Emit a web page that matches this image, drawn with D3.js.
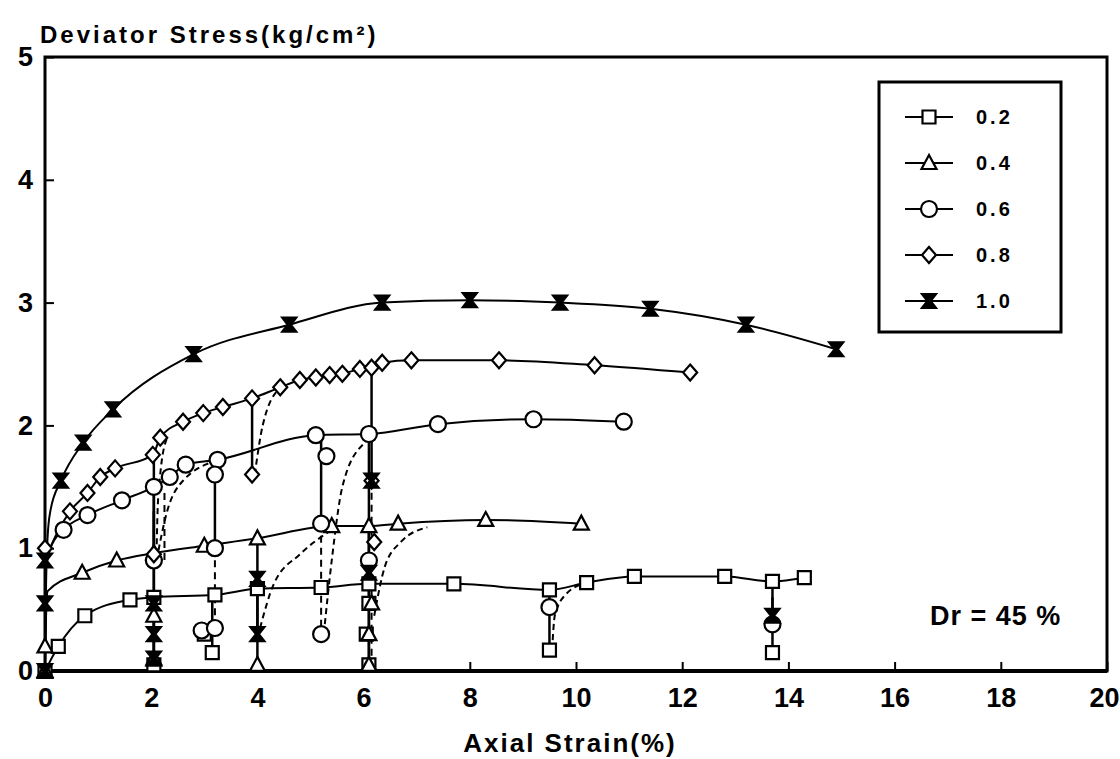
<!doctype html>
<html>
<head>
  <meta charset="utf-8">
  <title>Deviator Stress vs Axial Strain</title>
  <style type="text/css">
    body{ margin:0; background:#fff; }
    text{
      font-family: "Liberation Sans", Arial, sans-serif;
      font-weight: bold;
      fill:#000;
    }
    .tick line{ stroke:#000; stroke-width:2; }
    .tick text{ font-size:27px; }
    .frame{ fill:none; stroke:#000; stroke-width:3; }
    .curve{ fill:none; stroke:#000; stroke-width:2; }
    .reload{ fill:none; stroke:#000; stroke-width:2; stroke-dasharray:6,4; }
    .drop{ fill:none; stroke:#000; stroke-width:2.5; }
    .tail{ fill:none; stroke:#000; stroke-width:2; stroke-dasharray:7,5; }
  </style>
</head>
<body>
  <div id="vis"></div>
  <script src="https://d3js.org/d3.v7.min.js"></script>
  <script type="text/javascript">

    var width = 1120,
      height = 759,
      margin = {top:57, right:13, bottom:88, left:45};

    var xTicks = [0,2,4,6,8,10,12,14,16,18,20],
      yTicks = [0,1,2,3,4,5];

    var seriesNames = ['0.2','0.4','0.6','0.8','1.0'];

    // main stress-strain curves [strain %, stress kg/cm2]
    var curve02 = [[0,0],[0.25,0.2],[0.75,0.45],[1.6,0.58],[2.05,0.6],[3.2,0.62],[4.0,0.67],[5.2,0.68],[6.1,0.71],[7.7,0.71],[9.5,0.66],[10.2,0.72],[11.1,0.77],[12.8,0.77],[13.7,0.73],[14.3,0.76]];
    var curve04 = [[0,0],[0.02,0.45],[0.05,0.65],[0.7,0.8],[1.35,0.9],[2.05,0.96],[3.0,1.02],[4.0,1.08],[5.4,1.18],[6.1,1.18],[6.65,1.2],[8.3,1.23],[10.1,1.2]];
    var curve06 = [[0,0.8],[0.1,1.0],[0.35,1.15],[0.8,1.27],[1.45,1.39],[2.05,1.5],[2.35,1.58],[2.65,1.68],[3.25,1.72],[5.1,1.92],[6.1,1.93],[7.4,2.01],[9.2,2.05],[10.9,2.03]];
    var curve08 = [[0,0.9],[0.2,1.1],[0.47,1.3],[0.8,1.45],[1.04,1.58],[1.32,1.65],[2.03,1.76],[2.17,1.9],[2.6,2.03],[2.98,2.1],[3.35,2.15],[3.9,2.22],[4.43,2.31],[4.8,2.37],[5.1,2.39],[5.36,2.41],[5.6,2.42],[5.93,2.46],[6.15,2.47],[6.35,2.51],[6.9,2.53],[8.55,2.53],[10.35,2.49],[12.15,2.43]];
    var curve10 = [[0,0],[0.02,0.7],[0.05,1.1],[0.1,1.3],[0.3,1.55],[0.72,1.86],[1.28,2.13],[2.8,2.58],[4.6,2.82],[6.35,3.0],[8.0,3.02],[9.7,3.0],[11.4,2.95],[13.2,2.82],[14.9,2.62]];

    // unloading drops [strain, top stress, bottom stress]
    var drops02 = [[2.05,0.6,0.05],[3.15,0.62,0.15],[6.1,0.71,0.05],[9.5,0.66,0.17],[13.7,0.73,0.15]];
    var drops04 = [[2.05,0.96,0.1],[4.0,1.08,0.05],[6.1,1.18,0.05]];
    var drops06 = [[2.05,1.5,0.9],[3.2,1.72,1.0],[5.2,1.92,1.2],[6.1,1.93,0.9]];
    var drops08 = [[2.05,1.76,0.95],[3.9,2.22,1.6],[6.15,2.47,1.55]];
    var drops10 = [[2.05,1.3,0.1],[4.0,0.8,0.3],[13.7,0.6,0.45]];

    // dashed tails below the drops [strain, from, to]
    var tails = [[3.2,1.0,0.3],[5.2,1.2,0.25],[6.15,1.55,0.1],[2.25,1.45,0.9]];

    // loose markers left by the unload-reload cycles
    var extra02 = [[3.0,0.3],[6.1,0.55],[6.05,0.3]];
    var extra04 = [[6.1,0.3],[6.15,0.55],[2.05,0.45],[0,0.2]];
    var extra06 = [[2.95,0.33],[3.2,0.35],[5.2,0.3],[9.5,0.52],[13.7,0.38],[3.2,1.6],[5.3,1.75]];
    var extra08 = [[6.2,1.05],[0,1.0]];
    var extra10 = [[2.05,0.3],[2.05,0.55],[4.0,0.75],[6.15,1.55],[6.1,0.8],[0,0.55],[0,0.9]];

    // reloading branches
    var reload02 = [[[9.55,0.17],[9.6,0.45],[9.8,0.62],[10.2,0.72]]];
    var reload04 = [[[6.2,0.45],[6.4,0.85],[6.7,1.05],[7.2,1.17]],[[4.05,0.35],[4.3,0.7],[4.8,0.95],[5.4,1.15]]];
    var reload06 = [[[2.1,0.9],[2.3,1.3],[2.6,1.55],[3.3,1.72]],[[5.25,0.3],[5.4,0.9],[5.6,1.5],[6.0,1.85]]];
    var reload08 = [[[2.1,0.95],[2.12,1.3],[2.17,1.6],[2.3,1.9]],[[3.95,1.6],[4.1,2.0],[4.43,2.31]]];
    var reload10 = [];

    var series = [
      {name:seriesNames[0], curve:curve02, drops:drops02, reload:reload02, extra:extra02, sym:'square'},
      {name:seriesNames[1], curve:curve04, drops:drops04, reload:reload04, extra:extra04, sym:'triangle'},
      {name:seriesNames[2], curve:curve06, drops:drops06, reload:reload06, extra:extra06, sym:'circle'},
      {name:seriesNames[3], curve:curve08, drops:drops08, reload:reload08, extra:extra08, sym:'diamond'},
      {name:seriesNames[4], curve:curve10, drops:drops10, reload:reload10, extra:extra10, sym:'hourglass'}
    ];

    var svg = d3.select('#vis').append('svg')
      .attr('width', width)
      .attr('height', height);

    var x = d3.scaleLinear().domain([0,20]).range([margin.left, width - margin.right]),
      y = d3.scaleLinear().domain([0,5]).range([height - margin.bottom, margin.top]);

    var line = d3.line()
      .x(function(d){ return x(d[0]); })
      .y(function(d){ return y(d[1]); })
      .curve(d3.curveMonotoneX);

    var straight = d3.line()
      .x(function(d){ return x(d[0]); })
      .y(function(d){ return y(d[1]); });

    // axes, ticks inward
    var xAxis = svg.append('g')
      .attr('transform', 'translate(0,' + y(0) + ')')
      .call(d3.axisBottom(x).tickValues(xTicks).tickSize(-9).tickPadding(17).tickFormat(d3.format('d')))
      .call(function(g){ g.select('.domain').remove(); });

    // last label sits against the right edge of the page
    xAxis.selectAll('.tick text')
      .filter(function(d){ return d == 20; })
      .attr('text-anchor', 'end')
      .attr('dx', 12);

    svg.append('g')
      .attr('transform', 'translate(' + x(0) + ',0)')
      .call(d3.axisLeft(y).tickValues(yTicks).tickSize(-9).tickPadding(12).tickFormat(d3.format('d')))
      .call(function(g){ g.select('.domain').remove(); });

    svg.append('rect')
      .attr('class', 'frame')
      .attr('x', x(0))
      .attr('y', y(5))
      .attr('width', x(20) - x(0))
      .attr('height', y(0) - y(5));

    svg.append('line')
      .attr('x1', x(0)).attr('x2', x(20))
      .attr('y1', y(0)).attr('y2', y(0))
      .style('stroke', '#000').style('stroke-width', 4);

    // marker shapes
    function symbolPath(sym){
      if(sym == 'square') return 'M-6.5,-6.5H6.5V6.5H-6.5Z';
      if(sym == 'triangle') return 'M0,-8L7.5,6H-7.5Z';
      if(sym == 'circle') return 'M8,0A8,8 0 1,1 -8,0A8,8 0 1,1 8,0Z';
      if(sym == 'diamond') return 'M0,-8L7,0L0,8L-7,0Z';
      return 'M-7,-7H7L1.5,0L7,7H-7L-1.5,0Z';
    }

    function drawMarks(g, pts, sym){
      g.selectAll(null)
        .data(pts)
        .enter().append('path')
          .attr('d', symbolPath(sym))
          .attr('transform', function(d){ return 'translate(' + x(d[0]) + ',' + y(d[1]) + ')'; })
          .style('fill', sym == 'hourglass' ? '#000' : '#fff')
          .style('stroke', '#000')
          .style('stroke-width', 2.2);
    }

    var plot = svg.append('g');

    plot.selectAll('.tail')
      .data(tails)
      .enter().append('path')
        .attr('class', 'tail')
        .attr('d', function(d){ return straight([[d[0],d[1]],[d[0],d[2]]]); });

    series.forEach(function(s){
      var g = plot.append('g');

      s.reload.forEach(function(r){
        g.append('path').attr('class', 'reload').attr('d', line(r));
      });

      s.drops.forEach(function(d){
        g.append('path').attr('class', 'drop').attr('d', straight([[d[0],d[1]],[d[0],d[2]]]));
      });

      g.append('path').attr('class', 'curve').attr('d', line(s.curve));
    });

    series.forEach(function(s){
      var g = plot.append('g');
      drawMarks(g, s.curve.filter(function(d){ return d[0] > 0.2 || d[1] == 0; }), s.sym);
      drawMarks(g, s.drops.map(function(d){ return [d[0], d[2]]; }), s.sym);
      drawMarks(g, s.extra, s.sym);
    });

    // legend
    var legend = svg.append('g');
    legend.append('rect')
      .attr('class', 'frame')
      .attr('x', 879).attr('y', 82)
      .attr('width', 182).attr('height', 250);

    series.forEach(function(s, i){
      var ly = 117 + i * 46;
      legend.append('line')
        .attr('x1', 905).attr('x2', 953)
        .attr('y1', ly).attr('y2', ly)
        .style('stroke', '#000').style('stroke-width', 2);
      drawMarks(legend, [[x.invert(929), y.invert(ly)]], s.sym);
      legend.append('text')
        .attr('x', 976).attr('y', ly + 7)
        .style('font-size', '20px')
        .style('letter-spacing', '3px')
        .text(s.name);
    });

    svg.append('text')
      .attr('x', 930).attr('y', 625)
      .style('font-size', '27px')
      .style('letter-spacing', '1px')
      .text('Dr = 45 %');

    // axis titles
    svg.append('text')
      .attr('x', 40).attr('y', 43)
      .style('font-size', '24px')
      .style('letter-spacing', '3px')
      .text('Deviator Stress(kg/cm\u00b2)');

    svg.append('text')
      .attr('x', 570).attr('y', 752)
      .attr('text-anchor', 'middle')
      .style('font-size', '26px')
      .style('letter-spacing', '2px')
      .text('Axial Strain(%)');

  </script>
</body>
</html>
